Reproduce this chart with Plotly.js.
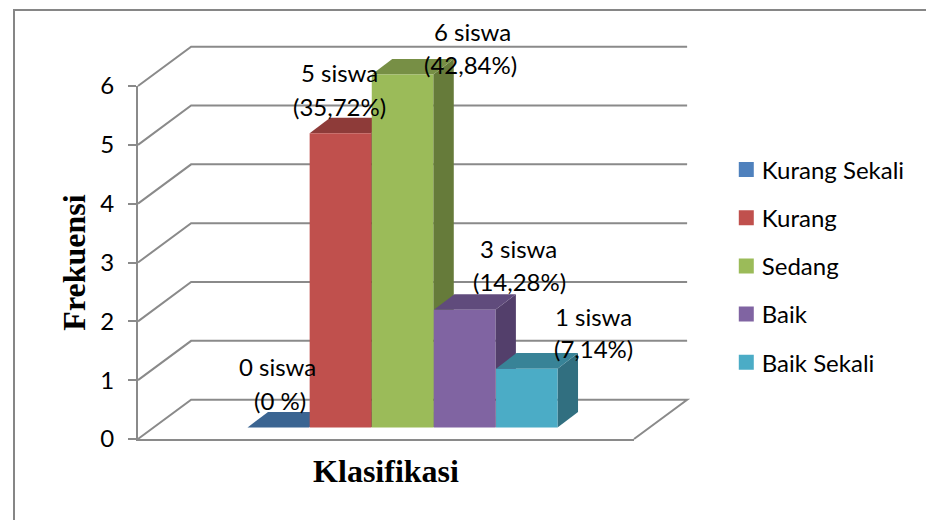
<!DOCTYPE html>
<html>
<head>
<meta charset="utf-8">
<script src="https://cdn.plot.ly/plotly-3.0.1.min.js"></script>
<style>html,body{margin:0;padding:0;background:#fff}#chart{width:926px;height:520px}</style>
</head>
<body>
<div id="chart"></div>
<script>
// Data
const categories = ["Kurang Sekali", "Kurang", "Sedang", "Baik", "Baik Sekali"];
const values = [0, 5, 6, 2, 1];
const labelCounts = ["0 siswa", "5 siswa", "6 siswa", "3 siswa", "1 siswa"];
const labelShares = ["(0 %)", "(35,72%)", "(42,84%)", "(14,28%)", "(7,14%)"];
const tickValues = [0, 1, 2, 3, 4, 5, 6];

// Styles
const frontColors = ["#4F81BD", "#C0504D", "#9BBB59", "#8064A2", "#4BACC6"];
const topColors = ["#3B6592", "#8E3B39", "#778F45", "#604B7C", "#388397"];
const sideColors = ["#335478", "#7F3432", "#667B3A", "#533F6B", "#316F80"];
const GRID = "#8A8A8A";
const FONT = "Lato, sans-serif";
const SERIF = '"Liberation Serif", serif';
const TEXT_SIZE = 24;

// Scene geometry in axis units
const xMin = -2.258, xMax = 5.726;       // front edge of the floor
const yMax3d = 6.68;                     // room with the depth offset on top
const wallDx = 0.855, wallDy = 0.668;    // depth of the room
const barDx = 0.33, barDy = 0.264;       // depth of a bar
const barBase = 0.196;                   // bars stand a little behind the front edge
const half = 0.495;

const px = x => (x - xMin) / (xMax - xMin);
const py = y => y / yMax3d;

// Back wall and floor
function wallPath(v) {
  return `M${px(xMin)},${py(v)} L${px(xMin + wallDx)},${py(v + wallDy)} L${px(xMax + wallDx)},${py(v + wallDy)}`;
}
const shapes = tickValues.map(v => ({
  type: "path", xref: "paper", yref: "paper", layer: "below",
  path: wallPath(v) + (v === 0 ? ` L${px(xMax)},${py(0)}` : ""),
  line: {color: GRID, width: 2}
}));
// Outer chart frame
shapes.push({
  type: "path", xref: "paper", yref: "paper", layer: "below",
  path: "M-0.25,-0.25 L-0.25,1.0916 L1.6,1.0916",
  line: {color: "#868686", width: 2}
});

const traces = [];
// Legend entries
categories.forEach((name, i) => traces.push({
  type: "scatter", mode: "markers", name, x: [null], y: [null],
  xaxis: "x", yaxis: "y", legendgroup: name,
  marker: {symbol: "square", size: 15, color: frontColors[i]},
  hoverinfo: "skip"
}));

function face(name, xs, ys, color) {
  traces.push({
    type: "scatter", mode: "none", name, x: xs, y: ys, xaxis: "x", yaxis: "y2",
    fill: "toself", fillcolor: color, showlegend: false, hoverinfo: "skip"
  });
}
// Faces, left to right so that nearer bars cover the sides of earlier ones
categories.forEach((name, i) => {
  const l = i - half, r = i + half, b = barBase, t = barBase + values[i];
  if (values[i] > 0) {
    face(name, [r, r + barDx, r + barDx, r, r], [b, b + barDy, t + barDy, t, b], sideColors[i]);
  }
  face(name, [l, l + barDx, r + barDx, r, l], [t, t + barDy, t + barDy, t, t], topColors[i]);
  if (values[i] > 0) {
    face(name, [l, r, r, l, l], [b, b, t, t, b], frontColors[i]);
  }
});

// Label positions in axis units
const countX = [-0.02, 0.98, 3.12, 3.87, 5.07];
const countY = [1.23, 6.23, 6.93, 3.23, 2.09];
const shareX = [0.03, 0.98, 3.09, 3.89, 5.07];
const shareY = [0.66, 5.65, 6.37, 2.67, 1.54];

const annotations = [];
categories.forEach((_, i) => {
  annotations.push({x: countX[i], y: py(countY[i]), xref: "x", yref: "paper", text: labelCounts[i],
    showarrow: false, xanchor: "center", yanchor: "middle", font: {family: FONT, size: TEXT_SIZE, color: "#000"}});
  annotations.push({x: shareX[i], y: py(shareY[i]), xref: "x", yref: "paper", text: labelShares[i],
    showarrow: false, xanchor: "center", yanchor: "middle", font: {family: FONT, size: TEXT_SIZE, color: "#000"}});
});

const layout = {
  width: 926, height: 520,
  margin: {l: 138, r: 292, t: 46, b: 81, pad: 0, autoexpand: false},
  paper_bgcolor: "#fff", plot_bgcolor: "rgba(0,0,0,0)",
  font: {family: FONT, size: TEXT_SIZE, color: "#000"},
  showlegend: true,
  legend: {
    x: 1.177, y: 0.742, xanchor: "left", yanchor: "top",
    bgcolor: "rgba(0,0,0,0)", tracegroupgap: 14,
    font: {family: FONT, size: TEXT_SIZE, color: "#000"}
  },
  xaxis: {
    range: [xMin, xMax], domain: [0, 1], anchor: "y", automargin: false,
    showgrid: false, zeroline: false, showticklabels: false, ticks: "",
    showline: true, linecolor: GRID, linewidth: 2,
    title: {text: "Klasifikasi", font: {family: SERIF, size: 32, color: "#000", weight: 700}, standoff: 20}
  },
  yaxis: {
    range: [0, 6], domain: [0, 6 / yMax3d], anchor: "x", automargin: false,
    tickmode: "array", tickvals: tickValues, ticktext: tickValues.map(String),
    showgrid: false, zeroline: false, showline: true, linecolor: GRID, linewidth: 2,
    ticks: "outside", ticklen: 8, tickwidth: 2, tickcolor: GRID, ticklabelstandoff: 9,
    tickfont: {family: FONT, size: TEXT_SIZE, color: "#000"},
    title: {text: "Frekuensi", font: {family: SERIF, size: 32, color: "#000", weight: 700}, standoff: 5}
  },
  yaxis2: {range: [0, yMax3d], domain: [0, 1], anchor: "x", visible: false},
  shapes, annotations
};

Plotly.newPlot("chart", traces, layout, {displayModeBar: false, staticPlot: true}).then(gd => {
  // The reference keeps its legend swatches closer to the text than Plotly's fixed slot
  gd.querySelectorAll(".legend .legendpoints").forEach(el => {
    el.setAttribute("transform", (el.getAttribute("transform") || "") + " translate(4.5,0)");
  });
});
</script>
</body>
</html>
